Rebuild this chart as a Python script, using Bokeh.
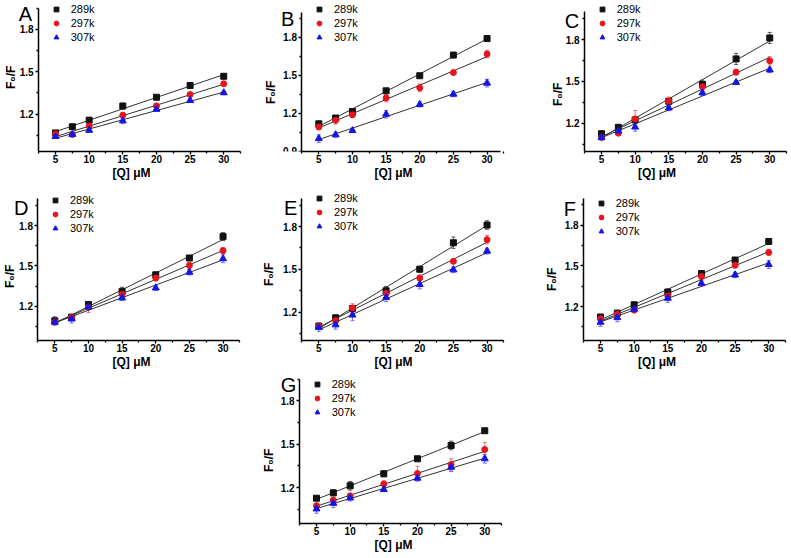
import numpy as np
from math import pi
from bokeh.plotting import figure
from bokeh.models import (Range1d, FixedTicker, Legend, LegendItem, Label,
                          Whisker, ColumnDataSource, TeeHead, Spacer)
from bokeh.layouts import column, row
from bokeh.embed import file_html
from bokeh.resources import INLINE

# ---------------- data ----------------
Q = [5, 7.5, 10, 15, 20, 25, 30]
SERIES = ["289k", "297k", "307k"]
X_TICKS = [5, 10, 15, 20, 25, 30]
X_MINOR = [2.5, 7.5, 12.5, 17.5, 22.5, 27.5, 32.5]
Y_TICKS = [0.9, 1.2, 1.5, 1.8]
Y_MINOR = [1.05, 1.35, 1.65, 1.95]
X_LABEL = "[Q] μM"
Y_LABEL = "F₀/F"

A_289 = [1.068, 1.112, 1.158, 1.258, 1.320, 1.403, 1.468]
A_297 = [1.061, 1.057, 1.117, 1.193, 1.258, 1.339, 1.415]
A_307 = [1.043, 1.057, 1.087, 1.154, 1.235, 1.297, 1.352]
B_289 = [1.116, 1.162, 1.213, 1.376, 1.495, 1.658, 1.788]
B_297 = [1.091, 1.144, 1.187, 1.320, 1.400, 1.520, 1.666]
B_307 = [1.000, 1.030, 1.063, 1.192, 1.269, 1.350, 1.437]
C_289 = [1.124, 1.170, 1.223, 1.357, 1.478, 1.661, 1.811]
C_297 = [1.096, 1.128, 1.230, 1.357, 1.462, 1.566, 1.647]
C_307 = [1.098, 1.144, 1.172, 1.309, 1.418, 1.492, 1.582]
D_289 = [1.092, 1.120, 1.214, 1.311, 1.434, 1.559, 1.718]
D_297 = [1.084, 1.118, 1.193, 1.289, 1.410, 1.504, 1.614]
D_307 = [1.082, 1.106, 1.195, 1.263, 1.337, 1.453, 1.554]
E_289 = [1.101, 1.159, 1.225, 1.349, 1.501, 1.687, 1.811]
E_297 = [1.101, 1.140, 1.228, 1.331, 1.439, 1.556, 1.708]
E_307 = [1.092, 1.110, 1.179, 1.303, 1.393, 1.497, 1.628]
F_289 = [1.123, 1.152, 1.214, 1.308, 1.444, 1.544, 1.681]
F_297 = [1.111, 1.143, 1.174, 1.279, 1.422, 1.506, 1.600]
F_307 = [1.085, 1.119, 1.181, 1.262, 1.372, 1.434, 1.511]
G_289 = [1.126, 1.163, 1.212, 1.295, 1.399, 1.491, 1.593]
G_297 = [1.073, 1.112, 1.142, 1.225, 1.297, 1.359, 1.463]
G_307 = [1.052, 1.091, 1.128, 1.186, 1.265, 1.341, 1.399]

A_ERR_289 = [0.01, 0.01, 0.02, 0.02, 0.01, 0.01, 0.01]
A_ERR_297 = [0.01, 0.01, 0.02, 0.02, 0.02, 0.01, 0.01]
A_ERR_307 = [0.01, 0.01, 0.01, 0.02, 0.01, 0.01, 0.01]
B_ERR_289 = [0.02, 0.01, 0.01, 0.01, 0.01, 0.02, 0.02]
B_ERR_297 = [0.02, 0.03, 0.02, 0.03, 0.03, 0.01, 0.03]
B_ERR_307 = [0.03, 0.02, 0.01, 0.03, 0.02, 0.02, 0.03]
C_ERR_289 = [0.02, 0.02, 0.02, 0.02, 0.03, 0.04, 0.04]
C_ERR_297 = [0.01, 0.01, 0.06, 0.03, 0.02, 0.02, 0.03]
C_ERR_307 = [0.01, 0.02, 0.03, 0.02, 0.02, 0.01, 0.02]
D_ERR_289 = [0.03, 0.01, 0.01, 0.03, 0.02, 0.01, 0.03]
D_ERR_297 = [0.02, 0.01, 0.04, 0.02, 0.02, 0.02, 0.02]
D_ERR_307 = [0.02, 0.03, 0.02, 0.02, 0.02, 0.02, 0.03]
E_ERR_289 = [0.02, 0.02, 0.02, 0.03, 0.02, 0.04, 0.03]
E_ERR_297 = [0.02, 0.02, 0.03, 0.03, 0.02, 0.01, 0.03]
E_ERR_307 = [0.03, 0.03, 0.04, 0.03, 0.03, 0.02, 0.02]
F_ERR_289 = [0.02, 0.02, 0.01, 0.02, 0.01, 0.01, 0.02]
F_ERR_297 = [0.02, 0.03, 0.01, 0.02, 0.02, 0.02, 0.02]
F_ERR_307 = [0.03, 0.03, 0.02, 0.03, 0.02, 0.02, 0.03]
G_ERR_289 = [0.01, 0.02, 0.03, 0.02, 0.01, 0.03, 0.01]
G_ERR_297 = [0.02, 0.02, 0.02, 0.02, 0.05, 0.04, 0.05]
G_ERR_307 = [0.03, 0.03, 0.02, 0.01, 0.02, 0.03, 0.03]

# ---------------- styles / geometry ----------------
FONT = "Liberation Sans"
COLORS = ["#111111", "#e8141c", "#1414e6"]
ERR_COLORS = ["#555555", "#f07070", "#7070f0"]
MARKERS = ["square", "circle", "triangle"]
SIZES = [6, 6, 7]
X_AXIS_AT = 2.5          # where the y axis crosses the x axis
PPU_X = 6.73             # px per x unit
YT_LEN = 23              # approx. length of the rotated y title, px

PANELS = [
    dict(letter="A", ys=[A_289, A_297, A_307], es=[A_ERR_289, A_ERR_297, A_ERR_307],
         w=262, h=182, fh=154, p5=55.0, yr=(0.937, 2.003), ytop=1.945, xb=32.5,
         tx=-28, ty=77, lx=-20, lt=2, lc=13),
    dict(letter="B", ys=[B_289, B_297, B_307], es=[B_ERR_289, B_ERR_297, B_ERR_307],
         w=262, h=182, fh=156, p5=56.3, yr=(0.898, 2.088), ytop=1.99, xb=32.0,
         tx=-31, ty=92, lx=-21, lt=7, lc=15),
    dict(letter="C", ys=[C_289, C_297, C_307], es=[C_ERR_289, C_ERR_297, C_ERR_307],
         w=265, h=182, fh=156, p5=77.0, yr=(0.9965, 2.08), ytop=2.0, xb=32.5,
         tx=-27, ty=94, lx=-20, lt=9, lc=15),
    dict(letter="D", ys=[D_289, D_297, D_307], es=[D_ERR_289, D_ERR_297, D_ERR_307],
         w=262, h=189, fh=162, p5=54.3, yr=(0.946, 2.12), ytop=2.0, xb=32.5,
         tx=-28, ty=94, lx=-24, lt=14, lc=23),
    dict(letter="E", ys=[E_289, E_297, E_307], es=[E_ERR_289, E_ERR_297, E_ERR_307],
         w=262, h=189, fh=161, p5=56.3, yr=(1.0, 2.11), ytop=2.0, xb=32.5,
         tx=-33, ty=92, lx=-18, lt=14, lc=20),
    dict(letter="F", ys=[F_289, F_297, F_307], es=[F_ERR_289, F_ERR_297, F_ERR_307],
         w=265, h=189, fh=162, p5=76.0, yr=(0.95, 2.116), ytop=2.0, xb=32.5,
         tx=-32, ty=97, lx=-20, lt=15, lc=26),
    dict(letter="G", ys=[G_289, G_297, G_307], es=[G_ERR_289, G_ERR_297, G_ERR_307],
         w=262, h=185, fh=152, p5=54.0, yr=(0.951, 2.003), ytop=1.95, xb=32.5,
         tx=-31, ty=89, lx=-19, lt=2, lc=14),
]


def make_panel(spec):
    w, h, fh, p5 = spec["w"], spec["h"], spec["fh"], spec["p5"]
    x_start = 5 - p5 / PPU_X
    x_end = 5 + (w - p5) / PPU_X
    y0, y1 = spec["yr"]
    p = figure(width=w, height=h, output_backend="svg", toolbar_location=None,
               x_range=Range1d(x_start, x_end), y_range=Range1d(y0, y1))
    p.min_border_left = 0
    p.min_border_right = 0
    p.min_border_top = 0
    p.min_border_bottom = h - fh
    p.outline_line_color = None
    p.xgrid.visible = False
    p.ygrid.visible = False
    p.background_fill_color = "white"
    p.border_fill_color = "white"

    p.xaxis.ticker = FixedTicker(ticks=X_TICKS, minor_ticks=X_MINOR)
    p.yaxis.ticker = FixedTicker(ticks=Y_TICKS, minor_ticks=Y_MINOR)
    p.xaxis.bounds = (X_AXIS_AT, spec["xb"])
    p.yaxis.bounds = (y0, spec["ytop"])
    p.yaxis.fixed_location = X_AXIS_AT
    for ax in (p.xaxis[0], p.yaxis[0]):
        ax.axis_line_width = 1.5
        ax.axis_line_color = "black"
        ax.major_tick_line_width = 1.3
        ax.minor_tick_line_width = 1.3
        ax.major_tick_out = 3
        ax.major_tick_in = 0
        ax.minor_tick_out = 2
        ax.minor_tick_in = 0
        ax.major_label_text_font = FONT
        ax.major_label_text_font_style = "bold"
        ax.major_label_text_font_size = "10px"
        ax.major_label_text_color = "black"
    p.xaxis.major_label_standoff = 0
    p.yaxis.major_label_standoff = 2
    p.xaxis.axis_label = X_LABEL
    p.xaxis.axis_label_standoff = 0
    p.xaxis.axis_label_text_font = FONT
    p.xaxis.axis_label_text_font_style = "bold"
    p.xaxis.axis_label_text_font_size = "12px"
    p.xaxis.axis_label_text_color = "black"

    items = []
    for i, (ys, es) in enumerate(zip(spec["ys"], spec["es"])):
        ys_a = np.array(ys)
        es_a = np.array(es)
        k, c = np.polyfit(Q, ys_a, 1)
        xf = np.array([Q[0], Q[-1]])
        p.line(xf, k * xf + c, line_color="#333333", line_width=1)
        src = ColumnDataSource(dict(x=Q, y=ys, upper=list(ys_a + es_a), lower=list(ys_a - es_a)))
        wh = Whisker(source=src, base="x", upper="upper", lower="lower",
                     line_color=ERR_COLORS[i], line_width=1,
                     upper_head=TeeHead(size=4, line_color=ERR_COLORS[i], line_width=1),
                     lower_head=TeeHead(size=4, line_color=ERR_COLORS[i], line_width=1))
        p.add_layout(wh)
        r = p.scatter("x", "y", source=src, marker=MARKERS[i], size=SIZES[i],
                      fill_color=COLORS[i], line_color=COLORS[i])
        items.append(LegendItem(label=SERIES[i], renderers=[r]))

    axis_px = p5 - 2.5 * PPU_X
    leg = Legend(items=items, location=(axis_px + 7.5, fh - 33 - spec["lc"]),
                 margin=0, padding=0, spacing=2,
                 glyph_width=20, glyph_height=12, label_height=12, label_standoff=5,
                 border_line_color=None, background_fill_alpha=0,
                 label_text_font=FONT, label_text_font_size="11px",
                 label_text_color="black")
    p.add_layout(leg)

    p.add_layout(Label(x=X_AXIS_AT, y=y1, x_offset=spec["lx"], y_offset=-spec["lt"],
                       text=spec["letter"], text_align="left", text_baseline="top",
                       text_font=FONT, text_font_size="20px", text_color="black"))
    p.add_layout(Label(x=X_AXIS_AT, y=y1, x_offset=spec["tx"],
                       y_offset=-(spec["ty"] + YT_LEN / 2),
                       text=Y_LABEL, angle=pi / 2, text_align="left", text_baseline="middle",
                       text_font=FONT, text_font_style="bold", text_font_size="12px",
                       text_color="black"))
    return p


figs = [make_panel(s) for s in PANELS]
layout = column(
    row(figs[0], figs[1], figs[2]),
    row(figs[3], figs[4], figs[5]),
    row(Spacer(width=262, height=185), figs[6]),
)

open("out.html", "w").write(file_html(layout, INLINE))
